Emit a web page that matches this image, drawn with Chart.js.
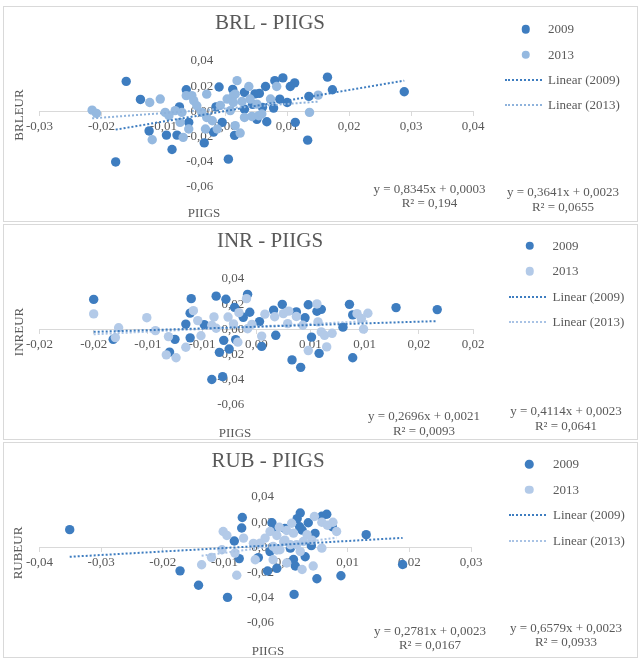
<!DOCTYPE html>
<html>
<head>
<meta charset="utf-8">
<script src="https://cdn.jsdelivr.net/npm/chart.js@4/dist/chart.umd.min.js"></script>
<style>
  html, body { margin:0; padding:0; background:#fff; }
  body { width:642px; height:664px; position:relative; overflow:hidden; font-family:"Liberation Serif","Times New Roman",serif; color:#595959; }
  .panel { position:absolute; left:3px; width:633px; height:214px; border:1px solid #d9d9d9; }
  .panel canvas { position:absolute; left:0; top:0; }
  .t { position:absolute; transform:translate(-50%,-50%); white-space:nowrap; font-size:13px; line-height:14px; text-align:center; }
  .title { font-size:21px; line-height:24px; }
  .rot { transform:translate(-50%,-50%) rotate(-90deg); }
  .ldot { position:absolute; width:8.5px; height:8.5px; border-radius:50%; transform:translate(-50%,-50%); }
  .lline { position:absolute; width:37px; height:0; transform:translateY(-50%); }
  .ltxt { position:absolute; transform:translateY(-50%); font-size:13px; white-space:nowrap; }
</style>
</head>
<body>
<div class="panel" style="top:6px"><canvas id="c1" width="633" height="214"></canvas></div>
<div class="panel" style="top:224px"><canvas id="c2" width="633" height="214"></canvas></div>
<div class="panel" style="top:442px"><canvas id="c3" width="633" height="214"></canvas></div>
<div id="ov"></div>
<script>
// ---------- DATA ----------
const seriesNames = ['2009', '2013'];
const chartTitles = ['BRL - PIIGS', 'INR - PIIGS', 'RUB - PIIGS'];
const yAxisTitles = ['BRLEUR', 'INREUR', 'RUBEUR'];
const xAxisTitle = 'PIIGS';

// BRL - PIIGS
const brlX2009 = [-0.0160,-0.0137,-0.0177,-0.0123,-0.0095,-0.0086,-0.0078,-0.0074,-0.0063,-0.0059,-0.0034,-0.0010,-0.0015,-0.0005,-0.0019,0.0005,0.0012,0.0015,0.0031,0.0031,0.0051,0.0048,0.0055,0.0065,0.0067,0.0080,0.0093,0.0078,0.0088,0.0100,0.0105,0.0112,0.0113,0.0135,0.0133,0.0165,0.0173,0.0289,0.0044,0.0060];
const brlY2009 = [0.0238,0.0095,-0.0401,-0.0155,-0.0188,-0.0302,-0.0188,0.0036,0.0172,-0.0087,-0.0250,0.0194,0.0036,-0.0087,-0.0164,-0.0379,0.0175,-0.0190,0.0018,0.0151,-0.0063,0.0139,0.0143,0.0198,-0.0082,0.0244,0.0266,0.0026,0.0097,0.0071,0.0198,0.0226,-0.0087,0.0119,-0.0228,0.0272,0.0172,0.0156,0.0056,0.0032];
const brlX2013 = [-0.0215,-0.0208,-0.0122,-0.0105,-0.0118,-0.0097,-0.0091,-0.0081,-0.0070,-0.0073,-0.0068,-0.0059,-0.0063,-0.0054,-0.0051,-0.0046,-0.0038,-0.0030,-0.0030,-0.0021,-0.0032,-0.0013,0.0003,0.0013,0.0019,0.0008,0.0038,0.0016,0.0040,0.0013,0.0051,0.0073,0.0083,0.0043,0.0054,0.0059,0.0150,0.0136,0.0024,0.0016,0.0027,-0.0008,0.0031];
const brlY2013 = [0.0010,-0.0016,0.0071,0.0098,-0.0225,-0.0008,-0.0034,0.0006,-0.0008,-0.0087,-0.0206,-0.0140,0.0125,0.0125,0.0085,0.0045,-0.0008,0.0137,-0.0048,-0.0074,-0.0140,-0.0140,0.0098,0.0125,0.0244,0.0006,0.0198,0.0137,0.0098,0.0071,0.0058,0.0098,0.0198,-0.0040,-0.0034,-0.0021,0.0129,-0.0008,-0.0172,-0.0113,0.0079,0.0048,-0.0048];

// INR - PIIGS
const inrX2009 = [-0.0150,-0.0132,-0.0075,-0.0080,-0.0060,-0.0061,-0.0065,-0.0061,-0.0048,-0.0037,-0.0028,-0.0030,-0.0034,-0.0025,-0.0041,-0.0031,-0.0019,-0.0020,-0.0012,-0.0006,-0.0008,0.0003,0.0005,0.0016,0.0018,0.0024,0.0037,0.0045,0.0048,0.0056,0.0060,0.0051,0.0058,0.0033,0.0041,0.0080,0.0086,0.0089,0.0089,0.0129,0.0167];
const inrY2009 = [0.0238,-0.0079,-0.0079,-0.0180,0.0244,0.0129,0.0042,-0.0067,0.0038,0.0264,0.0239,-0.0087,-0.0182,-0.0156,-0.0398,-0.0375,-0.0081,0.0175,0.0096,0.0136,0.0278,0.0062,-0.0135,0.0153,-0.0047,0.0199,0.0139,0.0092,0.0196,0.0144,0.0159,-0.0061,-0.0190,-0.0242,-0.0301,0.0018,0.0199,0.0115,-0.0225,0.0173,0.0157];
const inrX2013 = [-0.0150,-0.0130,-0.0127,-0.0101,-0.0093,-0.0081,-0.0083,-0.0074,-0.0065,-0.0058,-0.0054,-0.0051,-0.0041,-0.0039,-0.0037,-0.0026,-0.0021,-0.0016,-0.0017,-0.0009,-0.0008,-0.0004,0.0005,0.0008,0.0017,0.0025,0.0030,0.0029,0.0037,0.0043,0.0048,0.0056,0.0057,0.0060,0.0063,0.0070,0.0065,0.0093,0.0097,0.0103,0.0099];
const inrY2013 = [0.0123,-0.0065,0.0013,0.0093,-0.0010,-0.0057,-0.0202,-0.0225,-0.0142,0.0149,0.0070,-0.0050,0.0032,0.0099,0.0009,0.0098,0.0044,0.0133,-0.0101,0.0244,0.0005,0.0040,-0.0053,0.0121,0.0100,0.0125,0.0145,0.0046,0.0102,0.0033,-0.0168,0.0202,0.0060,-0.0020,-0.0047,-0.0031,-0.0139,0.0125,0.0086,0.0128,0.0002];

// RUB - PIIGS
const rubX2009 = [-0.0351,-0.0172,-0.0142,-0.0095,-0.0071,-0.0072,-0.0084,-0.0076,-0.0045,-0.0023,-0.0030,-0.0015,-0.0022,-0.0002,0.0012,0.0013,0.0015,0.0023,0.0018,0.0022,0.0026,0.0031,0.0036,0.0047,0.0041,0.0050,0.0058,0.0066,0.0075,0.0089,0.0130,0.0189,-0.0026,0.0007];
const rubY2009 = [0.0141,-0.0186,-0.0300,-0.0397,0.0237,0.0154,0.0051,-0.0089,-0.0081,0.0196,-0.0187,-0.0166,0.0137,0.0150,-0.0096,-0.0373,-0.0148,0.0273,0.0228,0.0164,0.0137,-0.0074,0.0196,0.0111,0.0014,-0.0249,0.0247,0.0263,0.0164,-0.0225,0.0101,-0.0136,-0.0033,-0.0006];
const rubX2013 = [-0.0102,-0.0096,-0.0104,-0.0121,-0.0137,-0.0080,-0.0083,-0.0069,-0.0026,-0.0015,0.0001,0.0012,-0.0004,0.0007,0.0017,-0.0010,-0.0021,0.0023,0.0034,0.0028,0.0046,0.0058,0.0076,0.0082,0.0058,0.0044,0.0026,0.0001,-0.0021,-0.0042,-0.0050,0.0009,-0.0034,-0.0011,0.0042,0.0067,-0.0015,-0.0002,-0.0053];
const rubY2013 = [0.0126,0.0095,-0.0019,-0.0079,-0.0138,-0.0221,-0.0045,0.0074,0.0126,0.0095,0.0134,0.0113,0.0047,0.0021,0.0021,-0.0019,0.0008,-0.0032,0.0100,0.0047,0.0245,0.0200,0.0200,0.0126,-0.0006,-0.0148,-0.0175,-0.0124,-0.0098,0.0034,-0.0098,0.0192,0.0074,0.0160,0.0058,0.0176,-0.0021,0.0058,0.0032];

// Trendline equations (slope, intercept, R²) as printed on the chart
const slopes2009 = [0.8345, 0.2696, 0.2781];
const intercepts2009 = [0.0003, 0.0021, 0.0023];
const r2_2009 = ['0,194', '0,0093', '0,0167'];
const slopes2013 = [0.3641, 0.4114, 0.6579];
const intercepts2013 = [0.0023, 0.0023, 0.0023];
const r2_2013 = ['0,0655', '0,0641', '0,0933'];
const eq2009Text = ['y = 0,8345x + 0,0003', 'y = 0,2696x + 0,0021', 'y = 0,2781x + 0,0023'];
const eq2013Text = ['y = 0,3641x + 0,0023', 'y = 0,4114x + 0,0023', 'y = 0,6579x + 0,0023'];

// Axis ticks
const xTickValues1 = [-0.03,-0.02,-0.01,0,0.01,0.02,0.03,0.04];
const xTickLabels1 = ['-0,03','-0,02','-0,01','0,00','0,01','0,02','0,03','0,04'];
const xTickValues2 = [-0.02,-0.015,-0.01,-0.005,0,0.005,0.01,0.015,0.02];
const xTickLabels2 = ['-0,02','-0,02','-0,01','-0,01','0,00','0,01','0,01','0,02','0,02'];
const xTickValues3 = [-0.04,-0.03,-0.02,-0.01,0,0.01,0.02,0.03];
const xTickLabels3 = ['-0,04','-0,03','-0,02','-0,01','0,00','0,01','0,02','0,03'];
const yTickValues = [-0.06,-0.04,-0.02,0,0.02,0.04];
const yTickLabels = ['-0,06','-0,04','-0,02','0,00','0,02','0,04'];

// ---------- STYLE ----------
const DARK = '#3e7dc0';
const LIGHT = ['#95b9e0', '#b3cae8', '#b3cae8'];
const LIGHT_LINE = ['#8fb3dc', '#a9c3e5', '#a9c3e5'];
const TXT = '#595959';
const FONT = '"Liberation Serif", "Times New Roman", serif';

function pts(xs, ys) { return xs.map((x, i) => ({ x: x, y: ys[i] })); }
function trend(xs, m, b) {
  const lo = Math.min(...xs), hi = Math.max(...xs);
  return [{ x: lo, y: m * lo + b }, { x: hi, y: m * hi + b }];
}

const yTickPlugin = {
  id: 'yTickLabels',
  beforeDatasetsDraw(chart) {
    const { ctx } = chart;
    const xs = chart.scales.x, ys = chart.scales.y;
    const x0 = xs.getPixelForValue(0);
    ctx.save();
    ctx.font = '13px ' + FONT;
    ctx.fillStyle = TXT;
    ctx.textAlign = 'right';
    ctx.textBaseline = 'middle';
    yTickValues.forEach((v, i) => ctx.fillText(yTickLabels[i], x0 - 12, ys.getPixelForValue(v)));
    ctx.restore();
  }
};

const configs = [
  { id: 'c1', x09: brlX2009, y09: brlY2009, x13: brlX2013, y13: brlY2013, xmin: -0.03, xmax: 0.04, xv: xTickValues1, xl: xTickLabels1, padR: 164 },
  { id: 'c2', x09: inrX2009, y09: inrY2009, x13: inrX2013, y13: inrY2013, xmin: -0.02, xmax: 0.02, xv: xTickValues2, xl: xTickLabels2, padR: 164 },
  { id: 'c3', x09: rubX2009, y09: rubY2009, x13: rubX2013, y13: rubY2013, xmin: -0.04, xmax: 0.03, xv: xTickValues3, xl: xTickLabels3, padR: 166 }
];

configs.forEach((c, k) => {
  new Chart(document.getElementById(c.id), {
    type: 'scatter',
    data: {
      datasets: [
        { type: 'line', label: 'Linear (2009)', data: trend(c.x09, slopes2009[k], intercepts2009[k]),
          borderColor: DARK, borderWidth: 2, borderDash: [2, 2], pointRadius: 0, fill: false, tension: 0, clip: false },
        { type: 'line', label: 'Linear (2013)', data: trend(c.x13, slopes2013[k], intercepts2013[k]),
          borderColor: LIGHT_LINE[k], borderWidth: 2, borderDash: [2, 2], pointRadius: 0, fill: false, tension: 0, clip: false },
        { label: seriesNames[1], data: pts(c.x13, c.y13), backgroundColor: LIGHT[k], borderWidth: 0, pointRadius: 4.7, clip: false },
        { label: seriesNames[0], data: pts(c.x09, c.y09), backgroundColor: DARK, borderWidth: 0, pointRadius: 4.7, clip: false }
      ]
    },
    options: {
      responsive: false,
      animation: false,
      events: [],
      layout: { padding: { left: 35.5, right: c.padR, top: 54, bottom: 34 } },
      plugins: { legend: { display: false }, tooltip: { enabled: false }, title: { display: false } },
      scales: {
        x: {
          type: 'linear', position: { y: 0 }, min: c.xmin, max: c.xmax,
          afterBuildTicks: s => { s.ticks = c.xv.map(v => ({ value: v })); },
          afterFit: s => { s.height = 0; },
          grid: { display: true, drawOnChartArea: false, drawTicks: true, tickLength: 4, color: '#d9d9d9' },
          border: { display: true, color: '#d9d9d9', width: 1 },
          ticks: { autoSkip: false, maxRotation: 0, minRotation: 0, padding: 3, color: TXT,
                   font: { family: FONT, size: 13 },
                   callback: (v, i) => c.xl[i] }
        },
        y: {
          type: 'linear', position: { x: 0 }, min: -0.06, max: 0.04,
          afterBuildTicks: s => { s.ticks = yTickValues.map(v => ({ value: v })); },
          afterFit: s => { s.width = 0; },
          grid: { display: false },
          border: { display: false },
          ticks: { display: false }
        }
      }
    },
    plugins: [yTickPlugin]
  });
});

// ---------- TEXT OVERLAYS ----------
const ov = document.getElementById('ov');
function txt(s, x, y, cls) {
  const d = document.createElement('div');
  d.className = 't ' + (cls || '');
  d.style.left = x + 'px'; d.style.top = y + 'px';
  d.textContent = s;
  ov.appendChild(d);
}
const titlePos = [[270, 22], [270, 240], [268, 460]];
const yTitlePos = [[19, 115], [19, 332], [18, 553]];
const xTitlePos = [[204, 213], [235, 432.5], [268, 650.5]];
const eq1Pos = [[429.5, 189, 203], [424, 416, 431], [430, 630.5, 644.5]];
const eq2Pos = [[563, 192, 207], [566, 411, 426], [566, 627.5, 642]];
const legPos = [[525.7, 548, 505, 29.3, 25.2], [529.5, 552.5, 509, 245.5, 25.5], [529.3, 553, 509.3, 464, 25.5]];

for (let k = 0; k < 3; k++) {
  txt(chartTitles[k], titlePos[k][0], titlePos[k][1], 'title');
  txt(yAxisTitles[k], yTitlePos[k][0], yTitlePos[k][1], 'rot');
  txt(xAxisTitle, xTitlePos[k][0], xTitlePos[k][1]);
  txt(eq2009Text[k], eq1Pos[k][0], eq1Pos[k][1]);
  txt('R² = ' + r2_2009[k], eq1Pos[k][0], eq1Pos[k][2]);
  txt(eq2013Text[k], eq2Pos[k][0], eq2Pos[k][1]);
  txt('R² = ' + r2_2013[k], eq2Pos[k][0], eq2Pos[k][2]);

  const [dx, tx, lx, y0, dy] = legPos[k];
  const items = [
    { kind: 'dot', color: DARK, label: seriesNames[0] },
    { kind: 'dot', color: LIGHT[k], label: seriesNames[1] },
    { kind: 'line', color: DARK, w: 2, label: 'Linear (2009)' },
    { kind: 'line', color: LIGHT_LINE[k], w: 2, label: 'Linear (2013)' }
  ];
  items.forEach((it, i) => {
    const y = y0 + dy * i;
    const m = document.createElement('div');
    if (it.kind === 'dot') {
      m.className = 'ldot'; m.style.left = dx + 'px'; m.style.top = y + 'px'; m.style.background = it.color;
    } else {
      m.className = 'lline'; m.style.left = lx + 'px'; m.style.top = y + 'px';
      m.style.borderTop = it.w + 'px dotted ' + it.color;
    }
    ov.appendChild(m);
    const t = document.createElement('div');
    t.className = 'ltxt'; t.style.left = tx + 'px'; t.style.top = y + 'px'; t.textContent = it.label;
    ov.appendChild(t);
  });
}
</script>
</body>
</html>
